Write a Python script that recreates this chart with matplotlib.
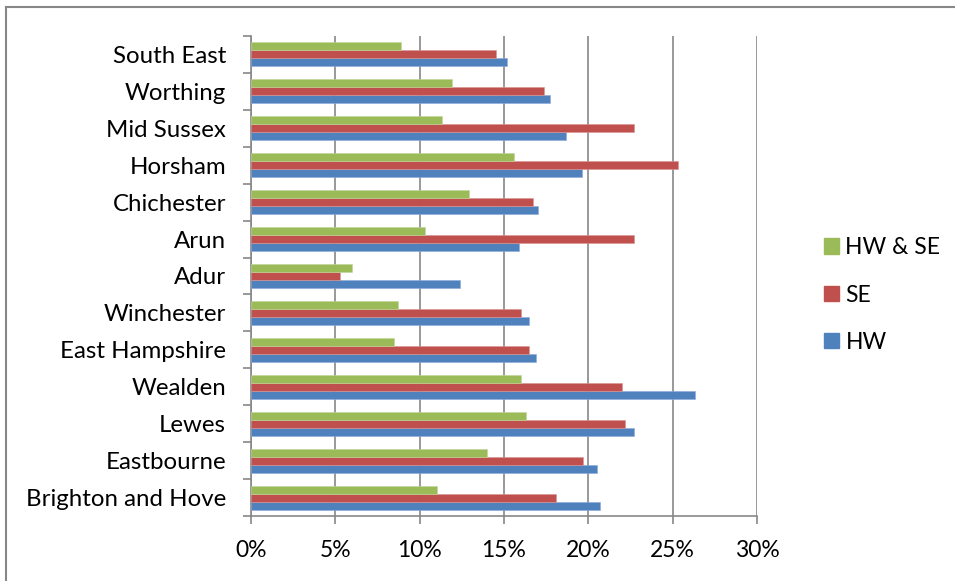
import numpy as np
import matplotlib.pyplot as plt
from matplotlib.lines import Line2D
from matplotlib.patches import Patch

plt.rcParams['font.family'] = ['Lato', 'DejaVu Sans']

# categories, bottom to top
areas = ["Brighton and Hove", "Eastbourne", "Lewes", "Wealden", "East Hampshire",
         "Winchester", "Adur", "Arun", "Chichester", "Horsham", "Mid Sussex",
         "Worthing", "South East"]
hw = [20.7, 20.5, 22.7, 26.3, 16.9, 16.5, 12.4, 15.9, 17.0, 19.6, 18.7, 17.7, 15.2]
se = [18.1, 19.7, 22.2, 22.0, 16.5, 16.0, 5.3, 22.7, 16.7, 25.3, 22.7, 17.4, 14.5]
hw_se = [11.0, 14.0, 16.3, 16.0, 8.5, 8.7, 6.0, 10.3, 12.9, 15.6, 11.3, 11.9, 8.9]
xticks = [0, 5, 10, 15, 20, 25, 30]

c_hw = '#4F81BD'
c_se = '#C0504D'
c_hwse = '#9BBB59'
grey = '#878787'
fs = 16.5

W, H = 955, 581
fig = plt.figure(figsize=(W / 100, H / 100), dpi=100)
ax = fig.add_axes([251 / W, (H - 516) / H, (757 - 251) / W, (516 - 36) / H])

y = np.arange(len(areas))
h = 0.216
ax.barh(y - h, hw, height=h, color=c_hw, edgecolor='#8EAADB', linewidth=0.4, zorder=3)
ax.barh(y, se, height=h, color=c_se, edgecolor='#D99694', linewidth=0.4, zorder=3)
ax.barh(y + h, hw_se, height=h, color=c_hwse, edgecolor='#C3D69B', linewidth=0.4, zorder=3)

ax.set_xlim(0, 30)
ax.set_ylim(-0.5, len(areas) - 0.5)
ax.set_xticks(xticks)
ax.set_xticklabels(["%d%%" % v for v in xticks])
ax.set_yticks(y)
ax.set_yticklabels(areas)
ax.set_yticks(np.arange(-0.5, len(areas)), minor=True)
ax.tick_params(axis='y', which='major', length=0, pad=18, labelsize=17.3)
ax.tick_params(axis='y', which='minor', length=6, width=1.2, color=grey)
ax.tick_params(axis='x', length=6, width=1.2, color=grey, pad=11, labelsize=fs)

ax.grid(axis='x', color=grey, linewidth=1.2, zorder=0)
for s in ['top', 'right']:
    ax.spines[s].set_visible(False)
for s in ['left', 'bottom']:
    ax.spines[s].set_color(grey)
    ax.spines[s].set_linewidth(1.2)

handles = [Patch(color=c_hwse), Patch(color=c_se), Patch(color=c_hw)]
fig.legend(handles, ["HW & SE", "SE", "HW"], loc='center left',
           bbox_to_anchor=(803 / W, 1 - 295 / H), frameon=False, fontsize=fs,
           handlelength=0.65, handleheight=0.65, handletextpad=0.3,
           labelspacing=1.15)

# outer chart border (left and top edges visible)
fig.add_artist(Line2D([6 / W, 6 / W], [0, 1 - 7 / H], color=grey, linewidth=1.5))
fig.add_artist(Line2D([6 / W, 1], [1 - 7 / H, 1 - 7 / H], color=grey, linewidth=1.5))

fig.savefig('out.png', dpi=100)
